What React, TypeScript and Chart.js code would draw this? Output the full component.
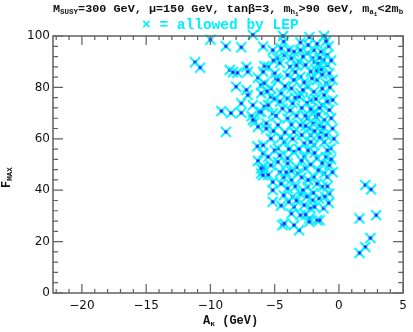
import React, { useEffect, useRef } from "react";
import { Chart, registerables } from "chart.js";

Chart.register(...registerables);

// A_kappa (GeV) values of the LEP-allowed points
const akValues: number[] = [
  -10.0, -8.8, -7.6, -6.7, -5.9, -4.35, -4.3, -2.3, -1.15,
  -11.2, -10.8,
  -8.5, -8.25, -7.9, -7.2, -7.1, -6.3, -5.8, -8.0, -7.2, -7.1, -7.6, -6.7,
  -9.15, -8.4, -7.6, -6.8, -6.2, -5.8, -8.8, -6.55, -6.3, -5.65, -6.35, -5.9,
  -6.3, -5.9, -6.05, -6.7, -6.05, -4.9, -5.9, -5.9, -5.15, -5.15, -5.15,
  -4.4, -3.1, -1.7, -2.3,
  2.05, 2.5, 1.6, 2.9, 2.45, 2.05, 1.6,
  -5.15, -4.5, -4.25, -3.5, -3.0, -2.45, -1.95, -1.4, -0.9, -3.7, -3.1, -2.6,
  -2.05, -1.55, -0.9, -0.75, -5.5, -5.9, -5.0, -4.0, -3.5, -3.0, -2.2, -1.7,
  -1.0, -5.8, -5.3, -4.5, -3.7, -3.0, -2.45, -1.95, -1.15, -4.75, -4.0, -5.3,
  -6.05,
  -1.9, -1.6, -1.4, -1.2, -1.7, -1.3, -1.5,
  -5.5, -6.05, -5.15, -4.4, -3.6, -4.0, -4.75, -5.65, -5.3, -5.9, -4.75, -4.25,
  -3.5, -3.0, -2.45, -1.95, -1.3, -0.75, -1.15, -0.5, -1.4, -2.2, -2.7, -1.95,
  -1.15, -0.65, -3.5, -2.7, -1.7, -1.0, -4.0, -5.5, -4.75, -3.1, -5.0, -2.2,
  -0.5,
  -2.0, -1.8, -1.5, -2.3, -1.6, -1.2, -2.6, -1.9,
  -6.05, -5.3, -4.0, -3.7, -3.2, -2.6, -1.95, -1.15, -0.75, -1.3, -0.75, -2.45,
  -3.0, -3.6, -4.0, -2.05, -1.55, -2.7, -3.5, -3.7, -3.0, -2.2, -4.25, -3.5,
  -2.3, -1.5, -3.9, -0.9,
  -4.6, -4.3, -5.0, -4.5, -3.9, -3.3, -2.9,
  -3.3, -2.8, -2.4, -1.7, -0.8, -0.6, -3.8, -4.6, -4.8, -3.4, -2.7, -2.1,
  -1.3, -0.7, -0.5, -2.8, -3.4, -2.5, -1.8, -0.9, -2.9, -2.2, -1.5, -0.6,
  -3.3, -3.7, -2.6, -1.0, -0.4, -2.9, -3.6, -2.2, -1.5, -0.9, -2.4, -3.1,
  -1.9, -1.3, -0.6, -2.2, -3.7, -2.9, -1.6, -0.5, -2.4, -1.7, -0.9, -3.4,
  -2.8, -2.0, -1.1, -3.3, -4.3, -4.5, -2.5, -1.9, -1.2, -0.8, -2.6, -4.5,
  -4.1, -5.5, -4.6, -4.2, -5.1, -4.9, -3.8, -4.6, -5.6, -4.2, -5.1, -3.9,
  -1.0, -3.0,
];

// F_MAX values, aligned with akValues
const fmaxValues: number[] = [
  98.6, 96.0, 95.6, 100.4, 95.9, 100.0, 97.8, 99.6, 100.0,
  89.8, 87.7,
  86.8, 85.9, 85.7, 88.0, 86.1, 83.8, 88.3, 80.3, 79.0, 77.0, 73.8, 73.1,
  70.8, 70.0, 70.1, 68.8, 70.5, 72.5, 62.7, 66.6, 64.7, 66.0, 57.1, 54.3,
  51.4, 49.1, 46.5, 67.3, 80.9, 83.5, 47.8, 45.8, 43.2, 40.0, 35.5,
  26.4, 24.4, 28.3, 29.0,
  42.0, 40.3, 29.0, 30.3, 21.4, 17.9, 15.6,
  94.5, 95.2, 92.6, 93.9, 94.5, 93.3, 94.5, 93.9, 92.6, 91.3, 90.0, 88.7,
  91.3, 88.0, 88.7, 85.5, 88.0, 86.1, 85.5, 84.8, 82.9, 84.1, 86.1, 82.9,
  81.6, 81.6, 79.6, 77.7, 79.6, 77.7, 80.3, 78.3, 77.0, 82.9, 75.7, 76.4,
  77.7,
  90.0, 89.2, 87.0, 90.5, 86.5, 85.0, 91.5,
  73.1, 70.5, 69.9, 71.8, 73.8, 67.9, 65.3, 64.0, 60.1, 57.5, 56.3, 58.8,
  62.7, 65.3, 67.9, 70.5, 73.1, 71.2, 67.3, 64.0, 62.7, 61.4, 58.2, 57.5,
  58.8, 56.3, 54.9, 53.0, 52.4, 53.0, 52.4, 53.0, 51.0, 76.4, 75.7, 75.1,
  75.1,
  66.0, 68.5, 65.0, 64.0, 69.5, 64.5, 69.0, 63.0,
  48.5, 49.7, 50.4, 43.9, 46.5, 48.5, 45.2, 46.5, 49.7, 41.3, 38.7, 41.3,
  38.7, 37.4, 40.7, 36.1, 36.8, 34.2, 33.5, 30.9, 30.3, 32.9, 27.0, 26.4,
  27.7, 28.3, 35.5, 45.2,
  47.0, 45.0, 55.5, 60.5, 56.0, 49.0, 51.5,
  88.5, 92.0, 96.5, 97.0, 96.0, 90.5, 88.0, 89.5, 91.5, 86.0, 82.0, 83.5,
  79.5, 80.0, 83.0, 79.0, 76.0, 74.0, 75.5, 74.5, 72.0, 71.5, 72.0, 68.0,
  69.0, 65.5, 65.0, 61.5, 60.0, 61.5, 60.0, 58.8, 60.5, 55.5, 55.5, 56.0,
  54.5, 50.5, 52.0, 50.0, 47.5, 45.0, 47.8, 47.0, 44.0, 42.5, 41.5, 41.5,
  40.0, 39.0, 37.5, 36.0, 38.0, 34.0, 37.5, 33.5, 33.0, 35.0, 30.5, 42.5,
  47.0, 46.0, 53.5, 62.5, 63.0, 69.0, 71.0, 74.5, 78.5, 80.5, 90.5, 94.5,
  98.0, 97.5,
];

const xMajorTicks: number[] = [-20, -15, -10, -5, 0, 5];
const yMajorTicks: number[] = [0, 20, 40, 60, 80, 100];

const CYAN = "#00f0ff";
const BLUE = "#1a1aff";
const AXIS = "#606060";
const TEXT = "#111111";

const X_MIN = -22.25;
const X_MAX = 5;
const Y_MIN = 0;
const Y_MAX = 100;

type Part = { t: string; lvl: number };

function drawRich(
  ctx: CanvasRenderingContext2D,
  parts: Part[],
  x: number,
  y: number,
  family: string,
  sizes: number[],
  drops: number[],
  weight: string
) {
  let cx = x;
  for (const p of parts) {
    ctx.font = `${weight} ${sizes[p.lvl]}px ${family}`;
    ctx.fillText(p.t, cx, y + drops[p.lvl]);
    cx += ctx.measureText(p.t).width;
  }
}

function makeMarker(): HTMLCanvasElement {
  const c = document.createElement("canvas");
  c.width = 12;
  c.height = 12;
  const g = c.getContext("2d")!;
  g.strokeStyle = CYAN;
  g.lineWidth = 1.8;
  g.beginPath();
  g.moveTo(1, 1);
  g.lineTo(11, 11);
  g.moveTo(11, 1);
  g.lineTo(1, 11);
  g.stroke();
  g.fillStyle = BLUE;
  g.fillRect(4.5, 4.5, 3, 3);
  return c;
}

const framePlugin = {
  id: "framePlugin",
  afterDraw(chart: any) {
    const ctx: CanvasRenderingContext2D = chart.ctx;
    const { left, right, top, bottom } = chart.chartArea;
    const xs = chart.scales.x;
    const ys = chart.scales.y;
    ctx.save();
    // frame
    ctx.strokeStyle = AXIS;
    ctx.lineWidth = 1.5;
    ctx.strokeRect(left, top, right - left, bottom - top);
    // ticks
    ctx.lineWidth = 1.2;
    ctx.beginPath();
    for (let v = -22; v <= X_MAX; v += 1) {
      const px = xs.getPixelForValue(v);
      const major = v % 5 === 0;
      const len = major ? 9 : 4;
      ctx.moveTo(px, bottom);
      ctx.lineTo(px, bottom - len);
      ctx.moveTo(px, top);
      ctx.lineTo(px, top + len);
    }
    for (let v = Y_MIN; v <= Y_MAX; v += 4) {
      const py = ys.getPixelForValue(v);
      ctx.moveTo(left, py);
      ctx.lineTo(left + 5, py);
      ctx.moveTo(right, py);
      ctx.lineTo(right - 5, py);
    }
    for (const v of yMajorTicks) {
      const py = ys.getPixelForValue(v);
      ctx.moveTo(left, py);
      ctx.lineTo(left + 10, py);
      ctx.moveTo(right, py);
      ctx.lineTo(right - 10, py);
    }
    ctx.stroke();

    // title
    const mono = '"Liberation Mono", "DejaVu Sans Mono", monospace';
    ctx.fillStyle = TEXT;
    ctx.textAlign = "left";
    ctx.textBaseline = "alphabetic";
    drawRich(
      ctx,
      [
        { t: "M", lvl: 0 },
        { t: "SUSY", lvl: 1 },
        { t: "=300 GeV, μ=150 GeV, tanβ=3, m", lvl: 0 },
        { t: "h", lvl: 1 },
        { t: "1", lvl: 2 },
        { t: ">90 GeV, m", lvl: 0 },
        { t: "a", lvl: 1 },
        { t: "1", lvl: 2 },
        { t: "<2m", lvl: 0 },
        { t: "b", lvl: 1 },
      ],
      53,
      12,
      mono,
      [11.8, 7.5, 6],
      [0, 2, 3.5],
      "bold"
    );

    // legend text
    ctx.fillStyle = CYAN;
    ctx.font = `bold 14.5px ${mono}`;
    ctx.fillText("× = allowed by LEP", 142, 29);

    // x axis title
    ctx.fillStyle = TEXT;
    drawRich(
      ctx,
      [
        { t: "A", lvl: 0 },
        { t: "κ", lvl: 1 },
        { t: " (GeV)", lvl: 0 },
      ],
      203,
      324,
      mono,
      [12, 8, 6],
      [0, 2, 3],
      "bold"
    );

    // y axis title
    ctx.save();
    ctx.translate(10, 188);
    ctx.rotate(-Math.PI / 2);
    drawRich(
      ctx,
      [
        { t: "F", lvl: 0 },
        { t: "MAX", lvl: 1 },
      ],
      0,
      0,
      mono,
      [12, 7.5, 6],
      [0, 2, 3],
      "bold"
    );
    ctx.restore();
    ctx.restore();
  },
};

function formatTick(v: number): string {
  return v < 0 ? "−" + Math.abs(v) : String(v);
}

export default function App() {
  const ref = useRef<HTMLCanvasElement | null>(null);

  useEffect(() => {
    if (!ref.current) return;
    const marker = makeMarker();
    const points = akValues.map((x, i) => ({ x, y: fmaxValues[i] }));
    const tickFont = { family: '"DejaVu Sans", sans-serif', size: 12 };
    const chart = new Chart(ref.current, {
      type: "scatter",
      data: {
        datasets: [
          {
            data: points,
            pointStyle: marker as any,
            pointRadius: 6,
            pointHoverRadius: 6,
            showLine: false,
            clip: false as any,
          },
        ],
      },
      options: {
        animation: false,
        responsive: false,
        devicePixelRatio: 1,
        events: [],
        layout: { padding: { top: 36, right: 7, left: 0, bottom: 0 } },
        plugins: {
          legend: { display: false },
          tooltip: { enabled: false },
          title: { display: false },
        },
        scales: {
          x: {
            type: "linear",
            min: X_MIN,
            max: X_MAX,
            afterBuildTicks: (s: any) => {
              s.ticks = xMajorTicks.map((v) => ({ value: v }));
            },
            afterFit: (s: any) => {
              s.height = 39;
            },
            grid: { display: false, drawTicks: false },
            border: { display: false },
            ticks: {
              padding: 6,
              color: TEXT,
              font: tickFont,
              maxRotation: 0,
              autoSkip: false,
              callback: (v: any) => formatTick(Number(v)),
            },
          },
          y: {
            type: "linear",
            min: Y_MIN,
            max: Y_MAX,
            afterBuildTicks: (s: any) => {
              s.ticks = yMajorTicks.map((v) => ({ value: v }));
            },
            afterFit: (s: any) => {
              s.width = 53;
            },
            grid: { display: false, drawTicks: false },
            border: { display: false },
            ticks: {
              padding: 3,
              color: TEXT,
              font: tickFont,
              autoSkip: false,
              callback: (v: any) => formatTick(Number(v)),
            },
          },
        },
      },
      plugins: [framePlugin],
    });
    return () => chart.destroy();
  }, []);

  return (
    <div style={{ position: "absolute", left: 0, top: 0, width: 413, height: 332, background: "#fff" }}>
      <canvas ref={ref} width={413} height={332} style={{ width: 413, height: 332 }} />
    </div>
  );
}
